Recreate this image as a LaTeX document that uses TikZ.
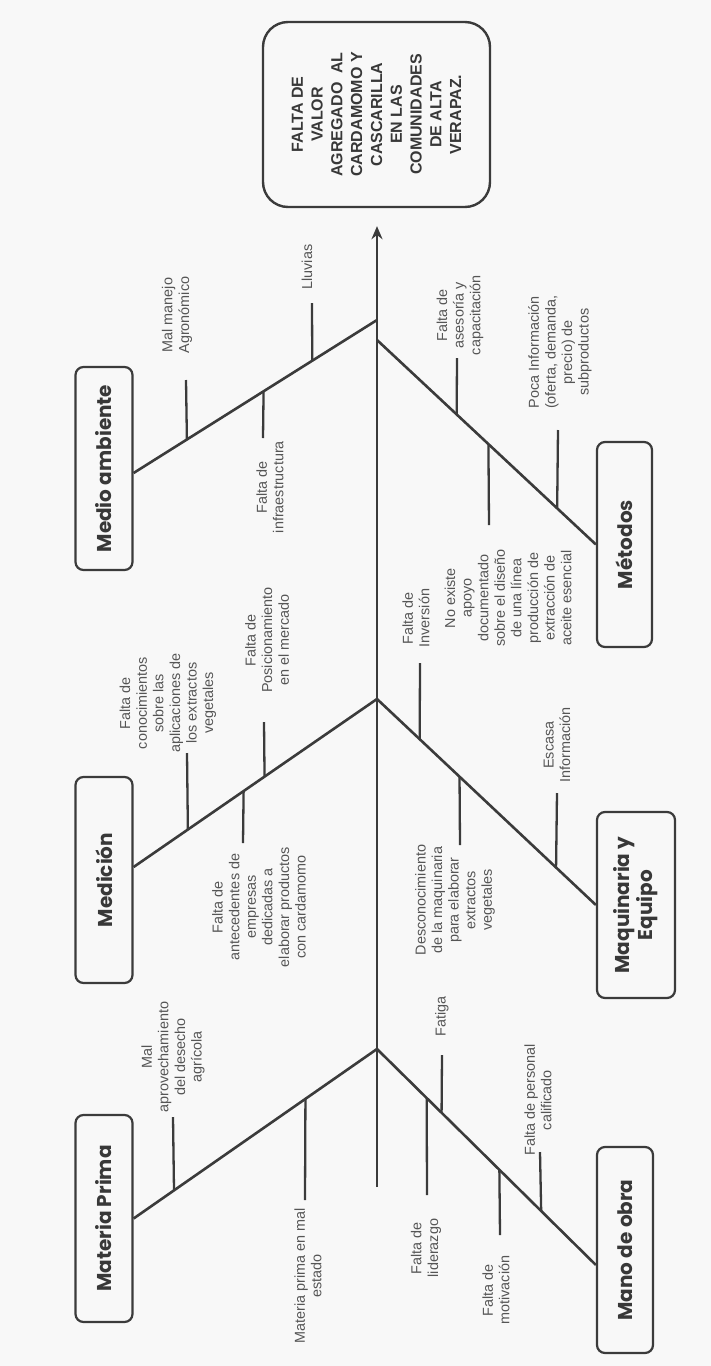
\documentclass[tikz,border=0pt]{standalone}
\usepackage{fontspec}
\setmainfont{Liberation Sans}
\newfontfamily\titlefont{Poppins}
\usetikzlibrary{arrows.meta,calc}
\definecolor{linecol}{HTML}{3B3B3B}
\definecolor{txtcol}{HTML}{555555}
\definecolor{titcol}{HTML}{383838}
\definecolor{bgcol}{HTML}{F8F8F8}
\begin{document}
\begin{tikzpicture}[x=1pt,y=-1pt,
  bone/.style={draw=linecol,line width=2.6pt},
  twig/.style={draw=linecol,line width=2.3pt},
  lbl/.style={rotate=90,align=center,text=txtcol,inner sep=0pt,font=\fontsize{14.4}{16.6}\selectfont},
  cat/.style={rotate=90,draw=linecol,line width=2.2pt,rounded corners=8pt,align=center,inner sep=0pt,text=titcol,font=\titlefont\bfseries\fontsize{20}{23}\selectfont},
  headbox/.style={rotate=90,draw=linecol,line width=2.4pt,rounded corners=25pt,align=center,inner sep=0pt,text=titcol,font=\bfseries\fontsize{16}{19.8}\selectfont}]
\fill[bgcol] (0,0) rectangle (711,1366);
\useasboundingbox (0,0) rectangle (711,1366);

% effect box
\node[headbox,minimum width=185pt,minimum height=227pt] (head) at (376.5,114.5)
  {FALTA DE\\VALOR\\AGREGADO\ \ AL\\CARDAMOMO Y\\CASCARILLA\\EN LAS\\COMUNIDADES\\DE ALTA\\VERAPAZ.};

% category boxes
\node[cat,minimum width=203pt,minimum height=57pt] (medio) at (104,468.5) {Medio ambiente};
\node[cat,minimum width=206pt,minimum height=57pt] (medicion) at (104,880) {Medición};
\node[cat,minimum width=207pt,minimum height=57pt] (materia) at (104,1218.5) {Materia Prima};
\node[cat,minimum width=205pt,minimum height=55pt] (metodos) at (624.5,544.5) {Métodos};
\node[cat,minimum width=186pt,minimum height=78pt] (maquinaria) at (636,905) {Maquinaria y\\Equipo};
\node[cat,minimum width=206pt,minimum height=56pt] (mano) at (625,1250) {Mano de obra};

% spine and junctions
\coordinate (tail) at (377,1187);
\coordinate (jA) at (377,320);
\coordinate (jB) at (377,340);
\coordinate (jC) at (377,699);
\coordinate (jD) at (377,1049);
\coordinate (mA) at ([yshift=-4.5pt]medio.south);
\coordinate (mC) at ([yshift=13pt]medicion.south);
\coordinate (mD) at (materia.south);
\coordinate (nB) at (metodos.north);
\coordinate (nC) at (maquinaria.north);
\coordinate (nD) at ([yshift=-15pt]mano.north);

\draw[bone,-{Stealth[length=13pt,width=11pt]},shorten >=18pt] (tail) -- (tail |- head.west);

\draw[bone] (mA) -- (jA);
\draw[bone] (mC) -- (jC);
\draw[bone] (mD) -- (jD);
\draw[bone] (jB) -- (nB);
\draw[bone] (jC) -- (nC);
\draw[bone] (jD) -- (nD);

% twigs: Medio ambiente
\coordinate (t1) at (186,380);  \draw[twig] (t1) -- ($(mA)!0.219!(jA)$);
\coordinate (t2) at (263,438);  \draw[twig] (t2) -- ($(mA)!0.534!(jA)$);
\coordinate (t3) at (312,303);  \draw[twig] (t3) -- ($(mA)!0.734!(jA)$);
% Medicion
\coordinate (t4) at (187,753);  \draw[twig] (t4) -- ($(mC)!0.223!(jC)$);
\coordinate (t5) at (243,843);  \draw[twig] (t5) -- ($(mC)!0.452!(jC)$);
\coordinate (t6) at (264,722);  \draw[twig] (t6) -- ($(mC)!0.538!(jC)$);
% Materia prima
\coordinate (t7) at (173,1117); \draw[twig] (t7) -- ($(mD)!0.166!(jD)$);
\coordinate (t8) at (305,1200); \draw[twig] (t8) -- ($(mD)!0.706!(jD)$);
% Metodos
\coordinate (t9) at (457,358);  \draw[twig] (t9) -- ($(jB)!0.364!(nB)$);
\coordinate (t10) at (489,525); \draw[twig] (t10) -- ($(jB)!0.509!(nB)$);
\coordinate (t11) at (558,430); \draw[twig] (t11) -- ($(jB)!0.823!(nB)$);
% Maquinaria
\coordinate (t12) at (420,663); \draw[twig] (t12) -- ($(jC)!0.195!(nC)$);
\coordinate (t13) at (460,845); \draw[twig] (t13) -- ($(jC)!0.377!(nC)$);
\coordinate (t14) at (557,793); \draw[twig] (t14) -- ($(jC)!0.818!(nC)$);
% Mano de obra
\coordinate (t15) at (427,1195); \draw[twig] (t15) -- ($(jD)!0.227!(nD)$);
\coordinate (t16) at (442,1055); \draw[twig] (t16) -- ($(jD)!0.295!(nD)$);
\coordinate (t17) at (500,1235); \draw[twig] (t17) -- ($(jD)!0.559!(nD)$);
\coordinate (t18) at (540,1152); \draw[twig] (t18) -- ($(jD)!0.750!(nD)$);

% labels
\node[lbl] (l1) at (177,315) {Mal manejo\\Agronómico};
\node[lbl] (l2) at (307,267) {Lluvias};
\node[lbl] (l3) at (270,487) {Falta de\\infraestructura};
\node[lbl] (l4) at (168,703) {Falta de\\conocimientos\\sobre las\\aplicaciones de\\los extractos\\vegetales};
\node[lbl] (l5) at (267,640) {Falta de\\Posicionamiento\\en el mercado};
\node[lbl] (l6) at (259,907) {Falta de\\antecedentes de\\empresas\\dedicadas a\\elaborar productos\\con cardamomo};
\node[lbl] (l7) at (173,1057) {Mal\\aprovechamiento\\del desecho\\agrícola};
\node[lbl] (l8) at (308,1276) {Materia prima en mal\\estado};
\node[lbl] (l9) at (460,315) {Falta de\\asesoría y\\capacitación};
\node[lbl] (l10) at (560,352) {Poca Información\\(oferta, demanda,\\precio) de\\subproductos};
\node[lbl] (l11) at (508,598) {No existe\\apoyo\\documentado\\sobre el diseño\\de una línea\\producción de\\extracción de\\aceite esencial};
\node[lbl] (l12) at (416,618) {Falta de\\Inversión};
\node[lbl] (l13) at (455,900) {Desconocimiento\\de la maquinaria\\para elaborar\\extractos\\vegetales};
\node[lbl] (l14) at (557,745) {Escasa\\Información};
\node[lbl] (l15) at (442,1016) {Fatiga};
\node[lbl] (l16) at (426,1248) {Falta de\\liderazgo};
\node[lbl] (l17) at (496,1290) {Falta de\\motivación};
\node[lbl] (l18) at (538,1100) {Falta de personal\\calificado};
\end{tikzpicture}
\end{document}
